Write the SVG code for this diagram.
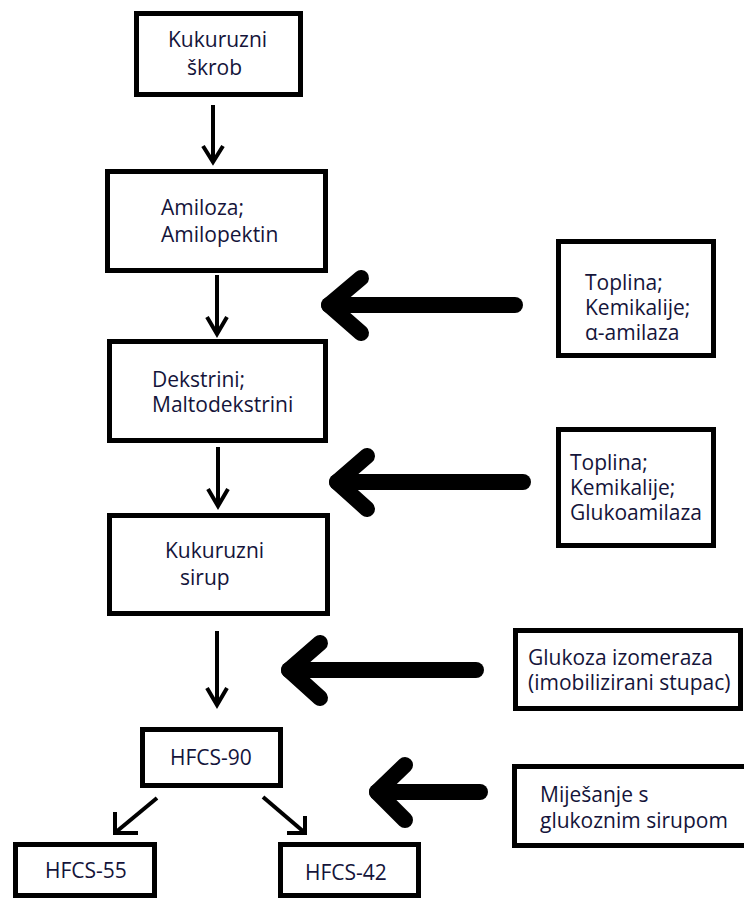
<svg xmlns="http://www.w3.org/2000/svg" width="744" height="900" viewBox="0 0 744 900">
<style>
.box{fill:#fff;stroke:#000;stroke-width:5}
.t{font-family:"Open Sans","Noto Sans","DejaVu Sans",sans-serif;font-size:21px;fill:#14143a}
.big{fill:none;stroke:#000;stroke-width:16;stroke-linecap:round;stroke-linejoin:round}
.sm{fill:none;stroke:#000;stroke-width:4;stroke-linejoin:miter}
</style>
<rect width="744" height="900" fill="#fff"/>
<g id="connectors">
<line class="sm" x1="213" y1="105" x2="213" y2="160"/>
<polyline class="sm" points="203,146 213,162 223,146"/>
<line class="sm" x1="217" y1="275" x2="217" y2="332"/>
<polyline class="sm" points="207,317 217,334 227,317"/>
<line class="sm" x1="218" y1="447" x2="218" y2="505"/>
<polyline class="sm" points="208,489 218,506 228,489"/>
<line class="sm" x1="217" y1="631" x2="217" y2="704"/>
<polyline class="sm" points="207,688 217,705 227,688"/>
<line class="sm" x1="157" y1="798" x2="116" y2="832"/>
<polyline class="sm" points="115,812 115,833 138,833"/>
<line class="sm" x1="263" y1="797" x2="304" y2="832"/>
<polyline class="sm" points="305,816 305,833 287,833"/>
<line class="big" x1="329" y1="305" x2="515" y2="305"/>
<polyline class="big" points="361,278 329,305 361,333"/>
<line class="big" x1="337" y1="482" x2="523" y2="482"/>
<polyline class="big" points="367,456 337,482 367,509"/>
<line class="big" x1="289" y1="670" x2="476" y2="670"/>
<polyline class="big" points="320,643 289,670 320,698"/>
<line class="big" x1="377" y1="792" x2="480" y2="792"/>
<polyline class="big" points="405,765 377,792 405,820"/>
</g>
<g id="n1"><rect class="box" x="136.5" y="13.5" width="164" height="81"/><text class="t" x="168" y="47">Kukuruzni</text><text class="t" x="187" y="75">škrob</text></g>
<g id="n2"><rect class="box" x="107.5" y="171.5" width="218" height="99"/><text class="t" x="161" y="215">Amiloza;</text><text class="t" x="161" y="242">Amilopektin</text></g>
<g id="n3"><rect class="box" x="109.5" y="341.5" width="216" height="99"/><text class="t" x="152" y="387">Dekstrini;</text><text class="t" x="152" y="412">Maltodekstrini</text></g>
<g id="n4"><rect class="box" x="109.5" y="515.5" width="218" height="98"/><text class="t" x="165" y="558">Kukuruzni</text><text class="t" x="180" y="585">sirup</text></g>
<g id="n5"><rect class="box" x="142.5" y="729.5" width="138" height="56"/><text class="t" x="170" y="765">HFCS-90</text></g>
<g id="n6"><rect class="box" x="15.5" y="844.5" width="139" height="51"/><text class="t" x="45" y="878">HFCS-55</text></g>
<g id="n7"><rect class="box" x="280.5" y="844.5" width="138" height="51"/><text class="t" x="305" y="880">HFCS-42</text></g>
<g id="n8"><rect class="box" x="558.5" y="241.5" width="155" height="114"/><text class="t" x="585" y="290">Toplina;</text><text class="t" x="585" y="315">Kemikalije;</text><text class="t" x="585" y="340">α-amilaza</text></g>
<g id="n9"><rect class="box" x="558.5" y="429.5" width="155" height="116"/><text class="t" x="570" y="470">Toplina;</text><text class="t" x="570" y="495">Kemikalije;</text><text class="t" x="570" y="520">Glukoamilaza</text></g>
<g id="n10"><rect class="box" x="515.5" y="630.5" width="225" height="78"/><text class="t" x="528" y="665">Glukoza izomeraza</text><text class="t" x="528" y="690">(imobilizirani stupac)</text></g>
<g id="n11"><rect class="box" x="514.5" y="766.5" width="240" height="79"/><text class="t" x="540" y="802">Miješanje s</text><text class="t" x="540" y="828">glukoznim sirupom</text></g>
</svg>
